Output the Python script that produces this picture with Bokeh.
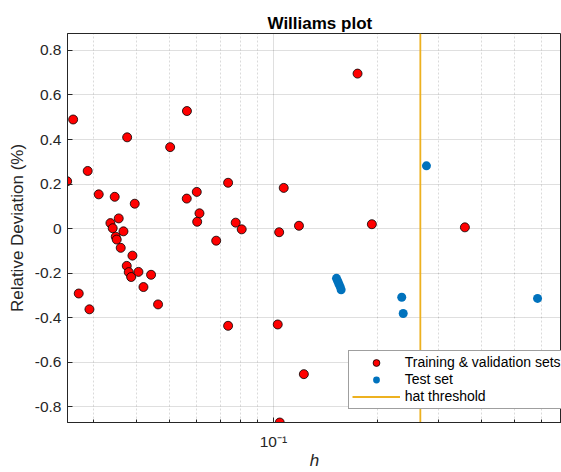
from bokeh.plotting import figure
from bokeh.models import Range1d, FixedTicker, Legend, LegendItem
from bokeh.embed import file_html
from bokeh.resources import INLINE

# ---- data ----
train_h = [0.02524, 0.02627, 0.02895, 0.03116, 0.03467, 0.03767, 0.03963, 0.05019,
           0.05614, 0.05607, 0.03369, 0.03561, 0.03421, 0.03675, 0.03491, 0.03514,
           0.03609, 0.03902, 0.03757, 0.03807, 0.03869, 0.04062, 0.04419, 0.04200,
           0.04630, 0.02727, 0.02929, 0.07389, 0.05995, 0.1071, 0.06104, 0.06011,
           0.07773, 0.08091, 0.10388, 0.11856, 0.06824, 0.07389, 0.10291, 0.10429,
           0.12249, 0.19285, 0.35877, 0.17528]
train_dev = [0.213, 0.490, 0.259, 0.154, 0.143, 0.410, 0.112, 0.366,
             0.528, 0.135, 0.025, 0.046, 0.002, -0.012, -0.036, -0.049,
             -0.086, -0.121, -0.167, -0.195, -0.217, -0.194, -0.207, -0.262,
             -0.340, -0.291, -0.362, 0.206, 0.165, 0.183, 0.069, 0.031,
             0.027, -0.003, -0.016, 0.013, -0.054, -0.436, -0.430, -0.870,
             -0.653, 0.020, 0.006, 0.696]
test_h = [0.2776, 0.2354, 0.2377, 0.5826, 0.1523, 0.1535, 0.1547, 0.1560, 0.1571]
test_dev = [0.282, -0.308, -0.381, -0.313, -0.223, -0.235, -0.247, -0.260, -0.274]
hat_threshold = 0.2665

x_limits = [0.0253, 0.6836]
y_limits = [-0.870, 0.876]
x_major_ticks = [0.1]
x_major_labels = ["10⁻¹"]
x_minor_ticks = [0.03, 0.04, 0.05, 0.06, 0.07, 0.08, 0.09, 0.2, 0.3, 0.4, 0.5, 0.6]
y_ticks = [-0.8, -0.6, -0.4, -0.2, 0, 0.2, 0.4, 0.6, 0.8]
y_labels = ["-0.8", "-0.6", "-0.4", "-0.2", "0", "0.2", "0.4", "0.6", "0.8"]

FONT = "Liberation Sans"
AX = "#262626"

p = figure(width=561, height=472, x_axis_type="log",
           x_range=Range1d(*x_limits), y_range=Range1d(*y_limits),
           output_backend="svg", toolbar_location=None,
           min_border_left=67, min_border_right=0, min_border_top=33, min_border_bottom=49,
           background_fill_color="white", border_fill_color="white")

p.title.text = "Williams plot"
p.title.text_font = FONT
p.title.text_font_size = "17px"
p.title.text_font_style = "bold"
p.title.text_color = "#000000"
p.title.align = "left"
p.title.offset = 200
p.title.standoff = 2

p.outline_line_color = AX
p.outline_line_width = 1

xt = FixedTicker(ticks=x_major_ticks, minor_ticks=x_minor_ticks)
yt = FixedTicker(ticks=y_ticks)

xa = p.xaxis[0]
ya = p.yaxis[0]
xa.ticker = xt
ya.ticker = yt
p.xgrid[0].ticker = xt
p.ygrid[0].ticker = yt
xa.major_label_overrides = dict(zip(x_major_ticks, x_major_labels))
ya.major_label_overrides = dict(zip(y_ticks, y_labels))

for ax in (xa, ya):
    ax.axis_line_color = AX
    ax.major_tick_line_color = AX
    ax.minor_tick_line_color = AX
    ax.major_tick_in = 5
    ax.major_tick_out = 0
    ax.minor_tick_in = 3
    ax.minor_tick_out = 0
    ax.major_label_text_font = FONT
    ax.major_label_text_font_size = "15.5px"
    ax.major_label_text_color = AX
    ax.axis_label_text_font = FONT
    ax.axis_label_text_font_size = "17px"
    ax.axis_label_text_color = AX
    ax.axis_label_text_font_style = "normal"

ya.minor_tick_line_color = None
ya.major_label_standoff = 6
ya.axis_label = "Relative Deviation (%)"
ya.axis_label_standoff = 5

xa.major_label_standoff = 10
xa.axis_label = "h"
xa.axis_label_text_font_style = "italic"
xa.axis_label_standoff = -2

p.xgrid.grid_line_color = AX
p.xgrid.grid_line_alpha = 0.15
p.xgrid.minor_grid_line_color = AX
p.xgrid.minor_grid_line_alpha = 0.17
p.xgrid.minor_grid_line_dash = "2 2"
p.ygrid.grid_line_color = AX
p.ygrid.grid_line_alpha = 0.15

r_train = p.scatter(train_h, train_dev, size=9, fill_color="#ff0000",
                    line_color="#000000", line_width=0.8)
r_test = p.scatter(test_h, test_dev, size=9, fill_color="#0072BD", line_color=None)
r_thr = p.line([hat_threshold, hat_threshold], y_limits, line_color="#EDB120", line_width=1.8)

legend = Legend(items=[LegendItem(label="Training & validation sets", renderers=[r_train]),
                       LegendItem(label="Test set", renderers=[r_test]),
                       LegendItem(label="hat threshold", renderers=[r_thr])],
                location=(280.7, 13.3),
                label_text_font=FONT, label_text_font_size="14px", label_text_color="#000000",
                glyph_width=48, glyph_height=17, label_height=17, label_standoff=5,
                padding=3, spacing=0,
                border_line_color="#404040", border_line_width=1,
                background_fill_color="white", background_fill_alpha=1)
p.add_layout(legend)

open("out.html", "w").write(file_html(p, INLINE))
